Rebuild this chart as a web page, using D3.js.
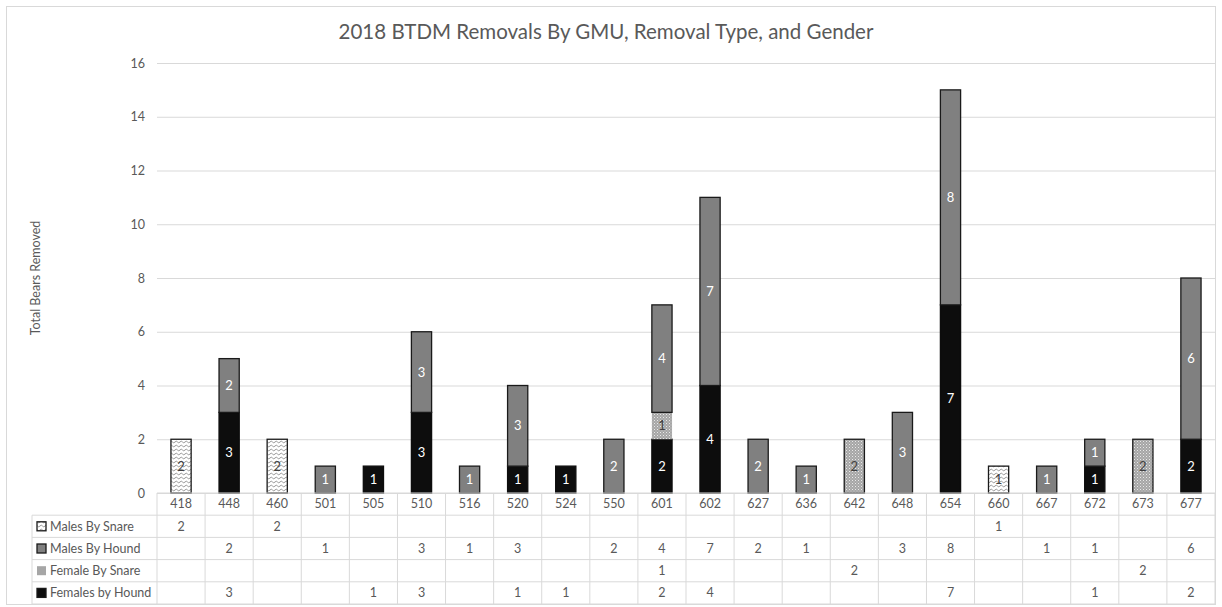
<!DOCTYPE html>
<html><head><meta charset="utf-8">
<script src="https://cdn.jsdelivr.net/npm/d3@7"></script>
<style>
html,body{margin:0;padding:0;background:#fff;}
svg{display:block;font-family:Lato,"Open Sans",sans-serif;}
</style></head>
<body><svg id="c" width="1222" height="607"></svg>
<script>
const categories = ["418","448","460","501","505","510","516","520","524","550","601","602","627","636","642","648","654","660","667","672","673","677"];
const seriesNames = ["Males By Snare","Males By Hound","Female By Snare","Females by Hound"];
const malesBySnare   = [2,null,2,null,null,null,null,null,null,null,null,null,null,null,null,null,null,1,null,null,null,null];
const malesByHound   = [null,2,null,1,null,3,1,3,null,2,4,7,2,1,null,3,8,null,1,1,null,6];
const femaleBySnare  = [null,null,null,null,null,null,null,null,null,null,1,null,null,null,2,null,null,null,null,null,2,null];
const femalesByHound = [null,3,null,null,1,3,null,1,1,null,2,4,null,null,null,null,7,null,null,1,null,2];
const yTicks = [0,2,4,6,8,10,12,14,16];
const title = "2018 BTDM Removals By GMU, Removal Type, and Gender";
const yTitle = "Total Bears Removed";

const seriesValues = {"Males By Snare":malesBySnare,"Males By Hound":malesByHound,"Female By Snare":femaleBySnare,"Females by Hound":femalesByHound};
const stackOrder = ["Females by Hound","Female By Snare","Males By Hound","Males By Snare"];

const svg = d3.select("#c");
const txt = "#595959", grid = "#d9d9d9";
const pLeft = 157, pRight = 1215, pTop = 63, pBase = 493;

// patterns
const defs = svg.append("defs");
const pz = defs.append("pattern").attr("id","zig").attr("patternUnits","userSpaceOnUse").attr("width",5).attr("height",4);
pz.append("rect").attr("width",5).attr("height",4).attr("fill","#fff");
pz.append("path").attr("d","M0,2 Q1.25,0.3 2.5,2 T5,2").attr("fill","none").attr("stroke","#8c8c8c").attr("stroke-width",0.9);
const pd = defs.append("pattern").attr("id","dot").attr("patternUnits","userSpaceOnUse").attr("width",3).attr("height",3);
pd.append("rect").attr("width",3).attr("height",3).attr("fill","#a6a6a6");
pd.append("rect").attr("x",0).attr("y",0).attr("width",1).attr("height",1).attr("fill","#e8e8e8");
pd.append("rect").attr("x",1.5).attr("y",1.5).attr("width",1).attr("height",1).attr("fill","#d0d0d0");

const style = {
  "Males By Snare":{fill:"url(#zig)",stroke:"#1a1a1a",label:"#404040"},
  "Males By Hound":{fill:"#808080",stroke:"#1a1a1a",label:"#fff"},
  "Female By Snare":{fill:"url(#dot)",stroke:"none",label:"#404040"},
  "Females by Hound":{fill:"#0d0d0d",stroke:"#0d0d0d",label:"#fff"}
};

// chart frame
svg.append("rect").attr("x",6.5).attr("y",6.5).attr("width",1209).attr("height",598).attr("fill","none").attr("stroke","#d9d9d9");

const x = d3.scaleBand().domain(categories).range([pLeft,pRight]).paddingInner(0.58).paddingOuter(0.29);
const xb = d3.scaleBand().domain(categories).range([pLeft,pRight]);
const y = d3.scaleLinear().domain([0,16]).range([pBase,pTop]);

// gridlines + y labels
const ya = svg.append("g").attr("transform",`translate(${pLeft},0)`)
  .call(d3.axisLeft(y).tickValues(yTicks).tickSize(-(pRight-pLeft)).tickPadding(12));
ya.select(".domain").remove();
ya.selectAll(".tick line").attr("stroke",grid).attr("stroke-width",1);
ya.selectAll(".tick text").attr("fill",txt).attr("font-size",12.5).attr("font-family","Lato,sans-serif");

// title
svg.append("text").attr("x",606).attr("y",39).attr("text-anchor","middle").attr("fill",txt)
  .attr("font-size",20.5).text(title);
svg.append("text").attr("transform","translate(40,278) rotate(-90)").attr("text-anchor","middle")
  .attr("fill",txt).attr("font-size",12.5).text(yTitle);

// stacked bars
const rows = categories.map((c,i)=>{const o={cat:c}; seriesNames.forEach(s=>o[s]=seriesValues[s][i]||0); return o;});
const stacked = d3.stack().keys(stackOrder)(rows);
stacked.forEach(layer=>{
  const s = layer.key, st = style[s];
  const g = svg.append("g");
  layer.forEach(d=>{
    const v = d[1]-d[0];
    if(!v) return;
    const bx = x(d.data.cat), bw = x.bandwidth();
    const total = stackOrder.reduce((a,k)=>a+d.data[k],0);
    let stroke = st.stroke;
    if(stroke==="none" && total===v) stroke = "#1a1a1a";
    g.append("rect").attr("x",bx).attr("y",y(d[1])).attr("width",bw).attr("height",y(d[0])-y(d[1]))
      .attr("fill",st.fill).attr("stroke",stroke).attr("stroke-width",stroke==="none"?0:1.3);
    g.append("text").attr("x",bx+bw/2).attr("y",(y(d[0])+y(d[1]))/2).attr("dy","0.35em")
      .attr("text-anchor","middle").attr("fill",st.label).attr("font-size",13).text(v);
  });
});

// data table
const tl = 32, rowH = 22.2;
const tb = svg.append("g");
const hdrBottom = pBase + rowH;
const tableBottom = hdrBottom + rowH*4;
tb.append("line").attr("x1",pLeft).attr("x2",pRight).attr("y1",pBase).attr("y2",pBase).attr("stroke",grid);
for(let r=0;r<=4;r++){
  const yy = hdrBottom + r*rowH;
  tb.append("line").attr("x1",tl).attr("x2",pRight).attr("y1",yy).attr("y2",yy).attr("stroke",grid);
}
tb.append("line").attr("x1",tl).attr("x2",tl).attr("y1",hdrBottom).attr("y2",tableBottom).attr("stroke",grid);
categories.forEach(c=>{
  tb.append("line").attr("x1",xb(c)).attr("x2",xb(c)).attr("y1",pBase).attr("y2",tableBottom).attr("stroke",grid);
});
tb.append("line").attr("x1",pRight).attr("x2",pRight).attr("y1",pBase).attr("y2",tableBottom).attr("stroke",grid);
categories.forEach(c=>{
  tb.append("text").attr("x",xb(c)+xb.bandwidth()/2).attr("y",pBase+rowH/2).attr("dy","0.35em")
    .attr("text-anchor","middle").attr("fill",txt).attr("font-size",12.5).text(c);
});
seriesNames.forEach((s,r)=>{
  const cy = hdrBottom + r*rowH + rowH/2;
  const st = style[s];
  const ks = 9;
  tb.append("rect").attr("x",37).attr("y",cy-ks/2).attr("width",ks).attr("height",ks)
    .attr("fill", s==="Female By Snare" ? "#a6a6a6" : st.fill)
    .attr("stroke", st.stroke==="none"?"none":"#1a1a1a").attr("stroke-width",st.stroke==="none"?0:1.3);
  tb.append("text").attr("x",50).attr("y",cy).attr("dy","0.35em").attr("fill",txt).attr("font-size",12.5).text(s);
  seriesValues[s].forEach((v,i)=>{
    if(v==null) return;
    tb.append("text").attr("x",xb(categories[i])+xb.bandwidth()/2).attr("y",cy).attr("dy","0.35em")
      .attr("text-anchor","middle").attr("fill",txt).attr("font-size",12.5).text(v);
  });
});
</script></body></html>
